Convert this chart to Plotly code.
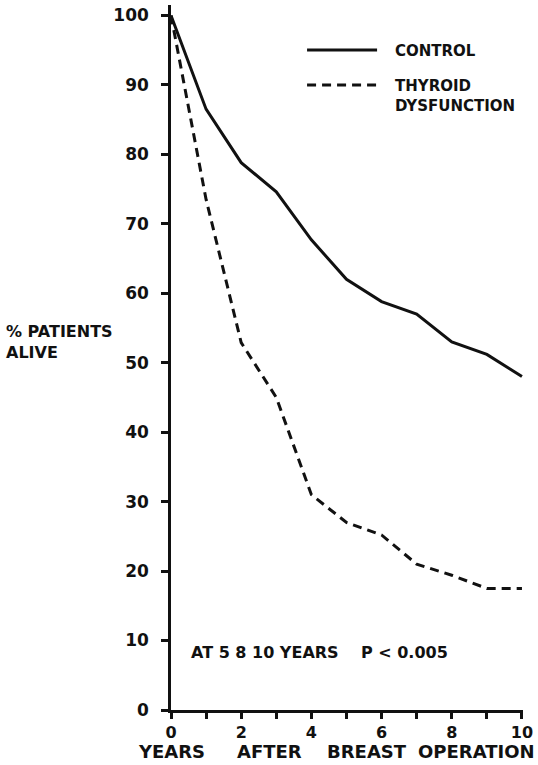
import plotly.graph_objects as go

years = [0, 1, 2, 3, 4, 5, 6, 7, 8, 9, 10]
control = [100, 86.5, 78.8, 74.6, 67.7, 62.0, 58.8, 57.0, 53.0, 51.2, 48.0]
thyroid = [100, 73.5, 52.9, 45.0, 31.0, 27.0, 25.2, 21.0, 19.4, 17.5, 17.5]
x_tickvals = [0, 1, 2, 3, 4, 5, 6, 7, 8, 9, 10]
x_ticktext = ["0", "", "2", "", "4", "", "6", "", "8", "", "10"]
y_tickvals = [0, 10, 20, 30, 40, 50, 60, 70, 80, 90, 100]
y_ticktext = ["0", "10", "20", "30", "40", "50", "60", "70", "80", "90", "100"]
x_title_words = ["YEARS", "AFTER", "BREAST", "OPERATION"]

FONT = "DejaVu Sans"
BLACK = "#111111"

W, H = 538, 765
L, R, T, B = 171, 10, 5, 55
PW, PH = W - L - R, H - T - B


def px_x(p):
    return (p - L) / PW


def px_y(p):
    return (H - B - p) / PH


fig = go.Figure()
fig.add_trace(go.Scatter(x=years, y=control, mode="lines", name="CONTROL",
                         line=dict(color=BLACK, width=3), showlegend=False))
fig.add_trace(go.Scatter(x=years, y=thyroid, mode="lines", name="THYROID DYSFUNCTION",
                         line=dict(color=BLACK, width=3, dash="9px,6px"), showlegend=False))

fig.update_layout(
    width=W, height=H,
    margin=dict(l=L, r=R, t=T, b=B),
    paper_bgcolor="white", plot_bgcolor="white",
    font=dict(family=FONT, color=BLACK, size=15, weight="bold"),
    xaxis=dict(range=[0, 10.03], tickvals=x_tickvals, ticktext=x_ticktext,
               showgrid=False, zeroline=False, showline=True, linecolor=BLACK, linewidth=2.5,
               ticks="outside", ticklen=6, tickwidth=2.5, tickcolor=BLACK, ticklabelstandoff=0,
               ticklabeloverflow="allow",
               tickfont=dict(family=FONT, size=16, color=BLACK, weight="bold")),
    yaxis=dict(range=[0, 101.5], tickvals=y_tickvals, ticktext=y_ticktext,
               showgrid=False, zeroline=False, showline=True, linecolor=BLACK, linewidth=2.5,
               ticks="outside", ticklen=7, tickwidth=2.5, tickcolor=BLACK, ticklabelstandoff=9,
               tickfont=dict(family=FONT, size=17, color=BLACK, weight="bold")),
)

# y-axis title
fig.add_annotation(text="% PATIENTS<br>ALIVE", xref="paper", yref="paper",
                   x=px_x(2), y=px_y(342), xanchor="left", yanchor="middle", align="left",
                   showarrow=False, font=dict(family=FONT, size=16, color=BLACK, weight="bold"))
# x-axis title (one annotation per word to mimic the wide lettering)
for word, cx in zip(x_title_words, [172, 271, 370, 481]):
    fig.add_annotation(text=word, xref="paper", yref="paper",
                       x=px_x(cx), y=px_y(751), xanchor="center", yanchor="middle",
                       showarrow=False, font=dict(family=FONT, size=18, color=BLACK, weight="bold"))
# p-value note
fig.add_annotation(text="AT 5 8 10 YEARS    P < 0.005", xref="paper", yref="paper",
                   x=px_x(189), y=px_y(652), xanchor="left", yanchor="middle",
                   showarrow=False, font=dict(family=FONT, size=16, color=BLACK, weight="bold"))

# legend drawn manually
fig.add_shape(type="line", xref="paper", yref="paper",
              x0=px_x(309), x1=px_x(380), y0=px_y(50), y1=px_y(50),
              line=dict(color=BLACK, width=3))
fig.add_shape(type="line", xref="paper", yref="paper",
              x0=px_x(309), x1=px_x(380), y0=px_y(85), y1=px_y(85),
              line=dict(color=BLACK, width=3, dash="9px,6px"))
fig.add_annotation(text="CONTROL", xref="paper", yref="paper",
                   x=px_x(396), y=px_y(51), xanchor="left", yanchor="middle",
                   showarrow=False, font=dict(family=FONT, size=15, color=BLACK, weight="bold"))
fig.add_annotation(text="THYROID<br>DYSFUNCTION", xref="paper", yref="paper",
                   x=px_x(396), y=px_y(96), xanchor="left", yanchor="middle", align="left",
                   showarrow=False, font=dict(family=FONT, size=15, color=BLACK, weight="bold"))

fig.write_html("out.html", config={"displayModeBar": False},
               post_script="document.body.style.margin='0px';document.body.style.overflow='hidden';")
